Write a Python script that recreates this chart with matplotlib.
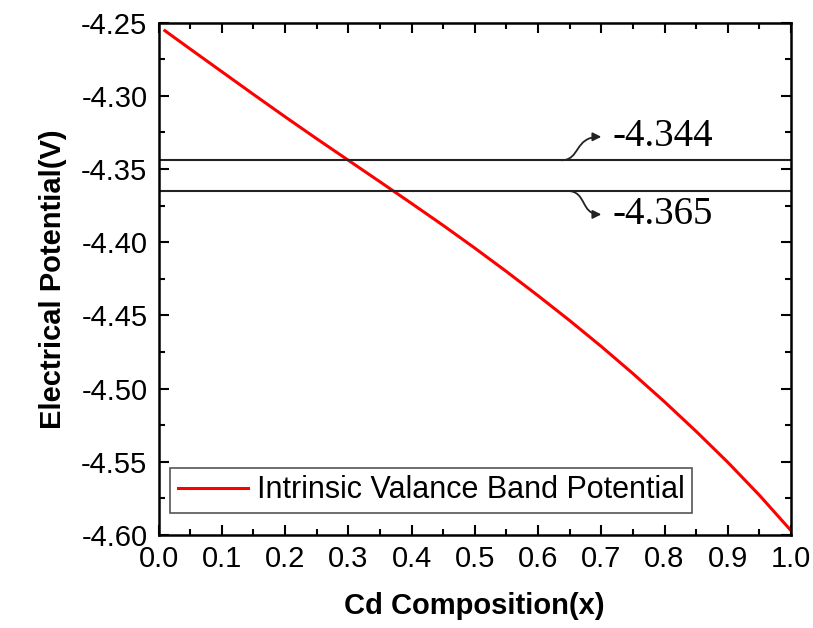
import matplotlib
matplotlib.use('Agg')
import matplotlib.pyplot as plt
from matplotlib.path import Path
from matplotlib.patches import FancyArrowPatch
from matplotlib.ticker import MultipleLocator, FormatStrFormatter

# curve
cd_x = [0.01, 0.05, 0.10, 0.15, 0.20, 0.25, 0.30, 0.35, 0.40, 0.45, 0.50,
        0.55, 0.60, 0.65, 0.70, 0.75, 0.80, 0.85, 0.90, 0.95, 1.00]
potential = [-4.2555, -4.2680, -4.2835, -4.2990, -4.3143, -4.3293, -4.3440,
             -4.3587, -4.3735, -4.3885, -4.4040, -4.4200, -4.4365, -4.4535,
             -4.4712, -4.4897, -4.5090, -4.5292, -4.5503, -4.5728, -4.5970]
levels = [-4.344, -4.365]
level_labels = ['-4.344', '-4.365']

plt.rcParams['font.family'] = ['Liberation Sans', 'DejaVu Sans']

fig = plt.figure(figsize=(8.13, 6.28), dpi=100)
ax = fig.add_axes([0.195, 0.148, 0.778, 0.816])

ax.plot(cd_x, potential, color='#ff0000', lw=2.2,
        label='Intrinsic Valance Band Potential')
for lv in levels:
    ax.axhline(lv, color='#222222', lw=1.5)

ax.set_xlim(0, 1.0)
ax.set_ylim(-4.60, -4.25)
ax.xaxis.set_major_locator(MultipleLocator(0.1))
ax.xaxis.set_minor_locator(MultipleLocator(0.05))
ax.yaxis.set_major_locator(MultipleLocator(0.05))
ax.yaxis.set_minor_locator(MultipleLocator(0.025))
ax.xaxis.set_major_formatter(FormatStrFormatter('%.1f'))
ax.yaxis.set_major_formatter(FormatStrFormatter('%.2f'))
ax.tick_params(which='both', direction='in', top=True, right=True,
               width=1.5, labelsize=21)
ax.tick_params(which='major', length=7)
ax.tick_params(axis='y', which='major', pad=8)
ax.tick_params(axis='x', which='major', pad=7)
ax.tick_params(which='minor', length=4)
for s in ax.spines.values():
    s.set_linewidth(1.8)

ax.set_xlabel('Cd Composition(x)', fontsize=21, fontweight='bold', labelpad=14)
ax.set_ylabel('Electrical Potential(V)', fontsize=21, fontweight='bold', labelpad=10)

leg = ax.legend(loc='lower left', fontsize=22, fancybox=False,
                edgecolor='#555555', framealpha=1, handlelength=2.3,
                handletextpad=0.3, borderpad=0.25, borderaxespad=0,
                bbox_to_anchor=(0.018, 0.043))
leg.get_frame().set_linewidth(1.2)

# level annotations with S-shaped arrows
offs = [1, -1]
for lv, lab, d in zip(levels, level_labels, offs):
    x0 = 0.637 if d > 0 else 0.647
    y1 = lv + d * 0.016
    verts = [(x0, lv), (x0 + 0.03, lv), (x0 + 0.02, y1), (0.70, y1)]
    path = Path(verts, [Path.MOVETO, Path.CURVE4, Path.CURVE4, Path.CURVE4])
    arr = FancyArrowPatch(path=path, arrowstyle='-|>,head_length=5,head_width=2.5',
                          color='#222222', lw=1.3)
    ax.add_patch(arr)
    ax.text(0.718, y1, lab, fontsize=28, family='Liberation Serif',
            va='center', ha='left')

fig.savefig('out.png', dpi=100)
